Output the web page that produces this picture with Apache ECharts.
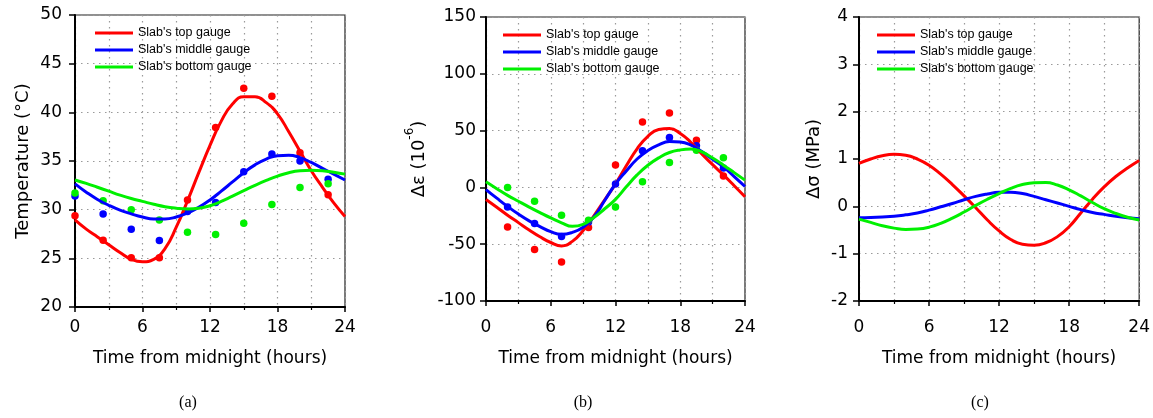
<!DOCTYPE html>
<html><head><meta charset="utf-8">
<script src="https://cdn.jsdelivr.net/npm/echarts@6/dist/echarts.min.js"></script>
<style>html,body{margin:0;padding:0;background:#fff}#c{width:1153px;height:418px}</style>
</head><body><div id="c"></div><script>
// ---- data ----
const hours = [0,1,2,3,4,5,6,7,8,9,10,11,12,13,14,15,16,17,18,19,20,21,22,23,24];
const names = ["Slab's top gauge", "Slab's middle gauge", "Slab's bottom gauge"];
const colors = ['#ff0000', '#0000ff', '#00f000'];

// (a) temperature
const aTopFit = [28.95,28.0,27.2,26.4,25.6,24.9,24.65,24.9,26.0,28.2,30.9,33.8,36.6,39.1,40.85,41.6,41.6,41.0,39.85,38.0,36.0,34.0,32.3,30.7,29.3];
const aMidFit = [32.65,31.8,31.05,30.45,29.95,29.57,29.25,29.05,29.05,29.25,29.65,30.25,31.0,31.9,32.85,33.8,34.6,35.2,35.55,35.6,35.35,34.85,34.25,33.65,33.05];
const aBotFit = [33.05,32.7,32.3,31.9,31.5,31.15,30.85,30.55,30.3,30.15,30.08,30.15,30.4,30.85,31.4,31.95,32.5,33.0,33.45,33.8,34.0,34.05,34.0,33.85,33.65];
const aPtsTime = [0,2.5,5,7.5,10,12.5,15,17.5,20,22.5];
const aTopPts = [29.37,26.85,25.07,25.07,31.0,38.43,42.47,41.66,35.85,31.52];
const aMidPts = [31.41,29.56,28.0,26.83,29.8,30.73,33.9,35.72,34.99,33.12];
const aBotPts = [31.72,30.91,29.98,28.95,27.68,27.46,28.61,30.52,32.27,32.66];

// (b) strain change
const bTopFit = [-10.6,-17.5,-24.5,-31,-37.5,-43.5,-48.5,-51.5,-47.5,-38,-25,-11,3,19,34,45,51,51.8,47.5,39.5,29.5,20,11,1.5,-8.2];
const bMidFit = [-1.9,-9.5,-16.8,-23.5,-29.5,-34.5,-39,-41.3,-39.6,-35,-26,-11.5,3,14.5,25,32.5,37.5,40.3,40,37.2,31.5,24.8,18,9.5,0.8];
const bBotFit = [4.9,-1.1,-7,-12.2,-17.3,-22.2,-26.9,-31.2,-34.3,-32.5,-26.5,-18.8,-10.5,0.5,11,19.5,26,30.7,33,33.8,31.2,25.8,19.6,13,6.4];
const bPtsTime = [2,4.5,7,9.5,12,14.5,17,19.5,22];
const bTopPts = [-34.8,-54.7,-65.6,-35.3,19.7,57.5,65.5,41.4,10.1];
const bMidPts = [-17.3,-31.8,-43.2,-30.5,3.0,32.3,44.0,36.6,17.0];
const bBotPts = [-0.1,-12.3,-24.5,-28.9,-17.3,4.9,21.9,32.8,26.1];

// (c) stress change
const cTopFit = [0.905,1.0,1.07,1.10,1.08,1.0,0.87,0.68,0.46,0.22,-0.03,-0.29,-0.52,-0.70,-0.80,-0.82,-0.77,-0.64,-0.43,-0.14,0.15,0.41,0.63,0.81,0.97];
const cMidFit = [-0.24,-0.235,-0.225,-0.21,-0.18,-0.14,-0.08,-0.01,0.06,0.14,0.21,0.26,0.295,0.30,0.27,0.21,0.14,0.07,0.0,-0.07,-0.13,-0.17,-0.21,-0.24,-0.26];
const cBotFit = [-0.27,-0.34,-0.41,-0.46,-0.49,-0.48,-0.44,-0.36,-0.25,-0.12,0.02,0.15,0.27,0.38,0.46,0.50,0.505,0.45,0.35,0.22,0.08,-0.05,-0.15,-0.23,-0.29];

const xName = 'Time from midnight (hours)';
const captions = ['(a)', '(b)', '(c)'];

// ---- helpers ----
const pair = (xs, ys) => xs.map((x, i) => [x, ys[i]]);
const dotted = { type: [1.5, 4.5], color: '#9a9a9a', width: 1.2 };
const tickFont = { fontFamily: 'DejaVu Sans', fontSize: 17, color: '#000' };

function xAxis(gi, gap, margin) {
  return {
    type: 'value', gridIndex: gi, min: 0, max: 24, interval: 6,
    name: xName, nameLocation: 'middle', nameGap: gap,
    nameTextStyle: { fontFamily: 'DejaVu Sans', fontSize: 17, color: '#000' },
    axisLine: { show: true, onZero: false, lineStyle: { color: '#000', width: 2 } },
    axisTick: { show: true, length: 5, lineStyle: { color: '#000', width: 1.5 } },
    minorTick: { show: true, splitNumber: 2, length: 3, lineStyle: { color: '#000', width: 1.2 } },
    splitLine: { show: true, lineStyle: dotted },
    minorSplitLine: { show: true, lineStyle: dotted },
    axisLabel: Object.assign({ margin: margin }, tickFont)
  };
}
function yAxis(gi, min, max, interval, name, gap, margin, rich) {
  const o = {
    type: 'value', gridIndex: gi, min: min, max: max, interval: interval,
    name: name, nameLocation: 'middle', nameGap: gap,
    nameTextStyle: { fontFamily: 'DejaVu Sans', fontSize: 18, color: '#000' },
    axisLine: { show: true, onZero: false, lineStyle: { color: '#000', width: 2 } },
    axisTick: { show: true, length: 6, lineStyle: { color: '#000', width: 1.5 } },
    splitLine: { show: true, lineStyle: dotted },
    axisLabel: Object.assign({ margin: margin }, tickFont)
  };
  if (rich) o.nameTextStyle.rich = rich;
  return o;
}
function lines(gi, fits) {
  return fits.map((f, i) => ({
    type: 'line', name: names[i], xAxisIndex: gi, yAxisIndex: gi,
    data: pair(hours, f), showSymbol: false, smooth: 0.5,
    lineStyle: { color: colors[i], width: 3 }, itemStyle: { color: colors[i] },
    z: 3, silent: true
  }));
}
function dots(gi, t, pts) {
  return pts.map((p, i) => ({
    type: 'scatter', name: 'pts' + gi + '_' + i, xAxisIndex: gi, yAxisIndex: gi,
    data: pair(t, p), symbol: 'circle', symbolSize: 7.5,
    itemStyle: { color: colors[i], opacity: 1 }, z: 2, silent: true
  }));
}
function legend(left, top) {
  return {
    left: left, top: top, orient: 'vertical', icon: 'rect', padding: 0,
    itemWidth: 38, itemHeight: 3, itemGap: 3, selectedMode: false,
    textStyle: { fontFamily: 'Liberation Sans', fontSize: 12.5, color: '#000', lineHeight: 14 },
    data: names
  };
}

const gridStyle = { show: true, borderColor: '#222', borderWidth: 1.2, containLabel: false };
const option = {
  animation: false,
  backgroundColor: '#fff',
  grid: [
    Object.assign({ left: 75, top: 15, width: 270, height: 292 }, gridStyle),
    Object.assign({ left: 486, top: 17, width: 259, height: 284 }, gridStyle),
    Object.assign({ left: 859, top: 17, width: 281, height: 284 }, gridStyle)
  ],
  xAxis: [xAxis(0, 43, 12), xAxis(1, 49, 18), xAxis(2, 49, 18)],
  yAxis: [
    yAxis(0, 20, 50, 5, 'Temperature (°C)', 43, 13),
    yAxis(1, -100, 150, 50, '{n|Δε (10}{s|-6}{n|)}', 58, 10, {
      n: { fontFamily: 'DejaVu Sans', fontSize: 18, lineHeight: 24, verticalAlign: 'bottom', color: '#000' },
      s: { fontFamily: 'DejaVu Sans', fontSize: 12, lineHeight: 24, verticalAlign: 'top', color: '#000' }
    }),
    yAxis(2, -2, 4, 1, 'Δσ (MPa)', 36, 11)
  ],
  legend: [legend(95, 26), legend(503, 28), legend(877, 28)],
  graphic: [
    { type: 'text', x: 188, y: 403, style: { text: captions[0], fontFamily: 'Liberation Serif', fontSize: 16, fill: '#000', align: 'center', verticalAlign: 'middle' } },
    { type: 'text', x: 583, y: 403, style: { text: captions[1], fontFamily: 'Liberation Serif', fontSize: 16, fill: '#000', align: 'center', verticalAlign: 'middle' } },
    { type: 'text', x: 980, y: 403, style: { text: captions[2], fontFamily: 'Liberation Serif', fontSize: 16, fill: '#000', align: 'center', verticalAlign: 'middle' } }
  ],
  series: [].concat(
    dots(0, aPtsTime, [aTopPts, aMidPts, aBotPts]),
    lines(0, [aTopFit, aMidFit, aBotFit]),
    dots(1, bPtsTime, [bTopPts, bMidPts, bBotPts]),
    lines(1, [bTopFit, bMidFit, bBotFit]),
    lines(2, [cTopFit, cMidFit, cBotFit])
  )
};
const chart = echarts.init(document.getElementById('c'), null, { renderer: 'canvas' });
chart.setOption(option);
</script></body></html>
